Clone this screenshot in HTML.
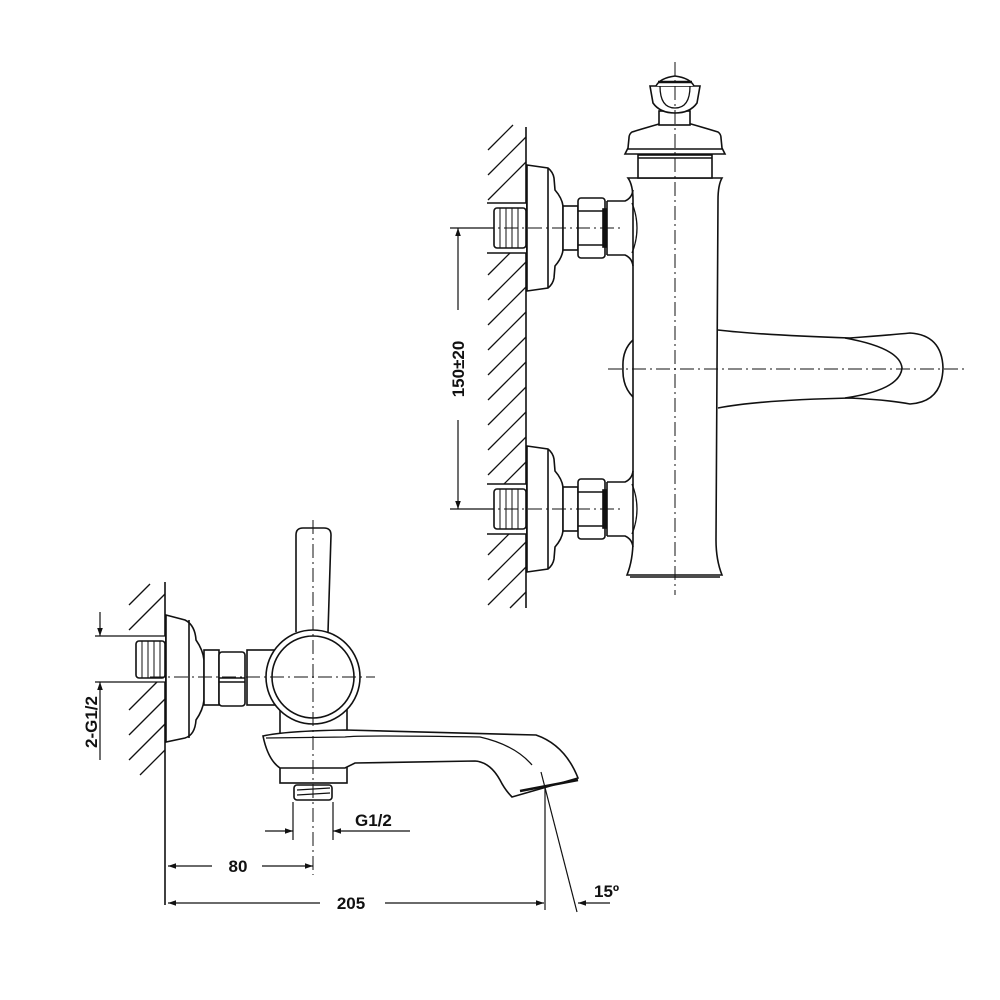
<!DOCTYPE html>
<html><head><meta charset="utf-8"><style>
html,body{margin:0;padding:0;background:#fff}
svg{display:block}
text{font-family:"Liberation Sans",Arial,sans-serif;font-weight:bold;font-size:17px;fill:#111}
</style></head><body>
<svg width="1000" height="1000" viewBox="0 0 1000 1000" xmlns="http://www.w3.org/2000/svg">
<defs>
<marker id="ar" viewBox="0 0 10 10" refX="10" refY="5" markerWidth="14" markerHeight="8" orient="auto-start-reverse" markerUnits="userSpaceOnUse"><path d="M0,1.5 L10,5 L0,8.5 Z" fill="#111"/></marker>
<g id="inlet">
  <rect x="486" y="-25" width="40" height="50" fill="#fff" stroke="none"/>
  <line x1="487" y1="-25" x2="526" y2="-25"/>
  <line x1="487" y1="25" x2="526" y2="25"/>
  <rect x="494" y="-20" width="32" height="40" rx="3" fill="#fff"/>
  <path d="M500,-20v40M506,-20v40M512,-20v40M518,-20v40" stroke-width="1"/>
  <path d="M527,-63 L548,-60 Q553,-56 554,-50 L555,-38 Q562,-30 563,-22 L563,22 Q562,30 555,38 L554,50 Q553,56 548,60 L527,63 Z" fill="#fff"/>
  <line x1="548" y1="-60" x2="548" y2="60"/>
  <rect x="563" y="-22" width="15" height="44" fill="#fff"/>
  <rect x="578" y="-30" width="27" height="60" rx="3" fill="#fff"/>
  <line x1="578" y1="-17" x2="605" y2="-17"/><line x1="578" y1="17" x2="605" y2="17"/>
  <rect x="603" y="-19" width="3" height="38" fill="#111"/>
  <path d="M607,-27 L625,-27 Q632,-30 633,-38 M607,27 L625,27 Q632,30 633,38 M607,-27 L607,27" fill="none"/>
  <path d="M632,-25 Q642,0 632,25" fill="none" stroke-width="1.3"/>
</g>
</defs>

<g stroke="#111" stroke-width="1.6" fill="none">
<line x1="526" y1="127" x2="526" y2="608"/>
<g stroke-width="1.3">
<line x1="488" y1="150" x2="513" y2="125"/>
<line x1="488" y1="175" x2="526" y2="137"/>
<line x1="488" y1="200" x2="526" y2="162"/>
<line x1="488" y1="275" x2="526" y2="237"/>
<line x1="488" y1="300" x2="526" y2="262"/>
<line x1="488" y1="325" x2="526" y2="287"/>
<line x1="488" y1="350" x2="526" y2="312"/>
<line x1="488" y1="375" x2="526" y2="337"/>
<line x1="488" y1="400" x2="526" y2="362"/>
<line x1="488" y1="425" x2="526" y2="387"/>
<line x1="488" y1="450" x2="526" y2="412"/>
<line x1="488" y1="475" x2="526" y2="437"/>
<line x1="488" y1="500" x2="526" y2="462"/>
<line x1="488" y1="555" x2="526" y2="517"/>
<line x1="488" y1="580" x2="526" y2="542"/>
<line x1="488" y1="605" x2="526" y2="567"/>
<line x1="510" y1="608" x2="526" y2="592"/>
</g>
<path d="M628,178 Q633,185 633,200 L633,540 Q633,560 627,575 L722,575 Q716,560 716,540 L718,200 Q718,185 722,178 Z" fill="#fff"/>
<line x1="630" y1="577" x2="720" y2="577"/>
<rect x="638" y="155" width="74" height="23" fill="#fff"/>
<line x1="638" y1="158" x2="712" y2="158"/>
<path d="M659,124 L691,124 Q705,128 718,132 Q721,134 721,138 L722,148 L725,154 L625,154 L628,148 L629,138 Q629,134 632,132 Q645,128 659,124 Z" fill="#fff"/>
<line x1="628" y1="149" x2="722" y2="149"/>
<rect x="659" y="111" width="31" height="14" fill="#fff"/>
<path d="M650,86 L700,86 L697,103 Q690,113 675,113 Q660,113 653,103 Z" fill="#fff"/>
<path d="M660,86 Q660,108 675,108 Q690,108 690,86" fill="none" stroke-width="1.3"/>
<path d="M656,86 Q660,78 675,76 Q690,78 694,86" fill="#fff"/>
<line x1="658" y1="82" x2="692" y2="82" stroke-width="2.5"/>
<path d="M718,330 Q760,335 850,338 Q890,335 910,333 Q942,335 943,368 Q942,402 910,404 Q890,400 850,398 Q760,400 718,408" fill="#fff"/>
<path d="M845,338 Q900,348 902,368 Q900,390 845,398" fill="none"/>
<path d="M633,340 Q622,350 623,368 Q622,386 633,397" fill="none"/>
<use href="#inlet" transform="translate(0,228)"/>
<use href="#inlet" transform="translate(0,509)"/>
<g stroke-width="1" stroke-dasharray="14,4,2,4">
<line x1="675" y1="62" x2="675" y2="595"/>
<line x1="608" y1="369" x2="965" y2="369"/>
<line x1="480" y1="228" x2="620" y2="228"/>
<line x1="480" y1="509" x2="620" y2="509"/>
</g>
<g stroke-width="1.2">
<line x1="450" y1="228" x2="494" y2="228"/>
<line x1="450" y1="509" x2="494" y2="509"/>
<line x1="458" y1="310" x2="458" y2="228" marker-end="url(#ar)"/>
<line x1="458" y1="420" x2="458" y2="509" marker-end="url(#ar)"/>
</g>

<line x1="165" y1="582" x2="165" y2="905"/>
<g stroke-width="1.3">
<line x1="129" y1="605" x2="150" y2="584"/>
<line x1="129" y1="630" x2="165" y2="594"/>
<line x1="129" y1="710" x2="165" y2="674"/>
<line x1="129" y1="735" x2="165" y2="699"/>
<line x1="129" y1="760" x2="165" y2="724"/>
<line x1="140" y1="775" x2="165" y2="750"/>
<line x1="129" y1="655" x2="145" y2="639"/>
</g>
<rect x="128" y="636" width="37" height="46" fill="#fff" stroke="none"/>
<line x1="95" y1="636" x2="165" y2="636" stroke-width="1.2"/>
<line x1="95" y1="682" x2="165" y2="682" stroke-width="1.2"/>
<rect x="136" y="641" width="29" height="37" rx="3" fill="#fff"/>
<path d="M142,641v37M148,641v37M154,641v37M160,641v37" stroke-width="1"/>
<path d="M166,615 L185,620 Q195,625 196,640 Q203,650 204,660 L204,700 Q203,710 196,720 Q195,735 185,738 L166,742 Z" fill="#fff"/>
<line x1="189" y1="620" x2="189" y2="738"/>
<rect x="204" y="650" width="15" height="55" fill="#fff"/>
<rect x="219" y="652" width="26" height="54" rx="3" fill="#fff"/>
<line x1="219" y1="678" x2="245" y2="678"/>
<line x1="219" y1="682" x2="245" y2="682"/>
<rect x="247" y="650" width="30" height="55" fill="#fff"/>
<path d="M296,632 L296,535 Q296,528 303,528 L324,528 Q331,528 331,535 L328,632" fill="#fff"/>
<rect x="280" y="710" width="67" height="73" fill="#fff"/>
<path d="M263,736 Q285,731 345,730 L536,735 Q565,745 578,778 L512,797 Q505,790 500,780 Q490,762 475,761 L355,763 L345,768 L280,768 Q268,760 263,736 Z" fill="#fff"/>
<path d="M266,738 L345,737 Q360,735 480,737 Q515,745 532,765" fill="none" stroke-width="1.3"/>
<path d="M520,791 L578,780" stroke-width="2.5"/>
<rect x="294" y="785" width="38" height="15" rx="3" fill="#fff"/>
<path d="M297,790 L330,788 M297,795 L330,793" stroke-width="1.2"/>
<circle cx="313" cy="677" r="47" fill="#fff"/>
<circle cx="313" cy="677" r="41"/>
<g stroke-width="1" stroke-dasharray="14,4,2,4">
<line x1="313" y1="520" x2="313" y2="875"/>
<line x1="150" y1="677" x2="375" y2="677"/>
</g>
<g stroke-width="1.2">
<line x1="100" y1="612" x2="100" y2="636" marker-end="url(#ar)"/>
<line x1="100" y1="760" x2="100" y2="682" marker-end="url(#ar)"/>
<line x1="293" y1="802" x2="293" y2="840"/>
<line x1="333" y1="802" x2="333" y2="840"/>
<line x1="265" y1="831" x2="293" y2="831" marker-end="url(#ar)"/>
<line x1="410" y1="831" x2="333" y2="831" marker-end="url(#ar)"/>
<line x1="168" y1="866" x2="212" y2="866" marker-start="url(#ar)"/>
<line x1="262" y1="866" x2="313" y2="866" marker-end="url(#ar)"/>
<line x1="168" y1="903" x2="320" y2="903" marker-start="url(#ar)"/>
<line x1="385" y1="903" x2="544" y2="903" marker-end="url(#ar)"/>
<line x1="545" y1="785" x2="545" y2="910"/>
<line x1="541" y1="772" x2="577" y2="912"/>
<line x1="610" y1="903" x2="578" y2="903" marker-end="url(#ar)"/>
</g>
</g>
<text x="238" y="872" text-anchor="middle">80</text>
<text x="351" y="909" text-anchor="middle">205</text>
<text x="355" y="826">G1/2</text>
<text x="594" y="897">15º</text>
<text transform="translate(464,369) rotate(-90)" text-anchor="middle">150±20</text>
<text transform="translate(97,722) rotate(-90)" text-anchor="middle">2-G1/2</text>
</svg>
</body></html>
